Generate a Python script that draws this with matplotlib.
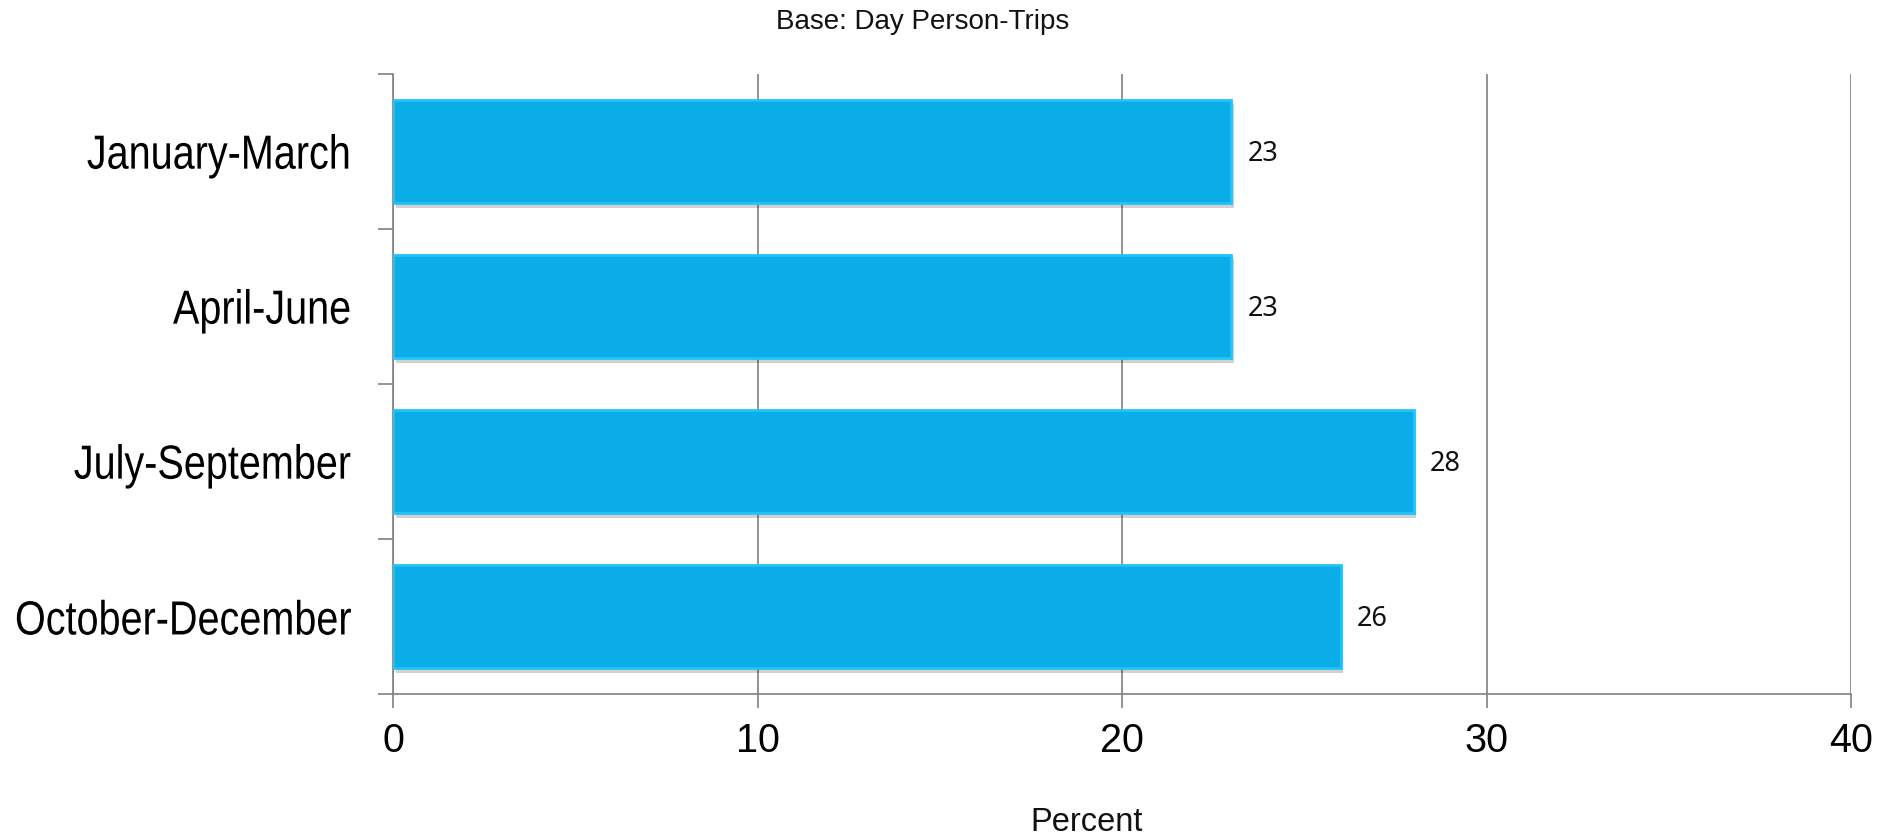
import matplotlib
matplotlib.use("Agg")
import matplotlib.pyplot as plt
import matplotlib.patheffects as pe
from matplotlib.transforms import Affine2D

categories = ["January-March", "April-June", "July-September", "October-December"]
values = [23, 23, 28, 26]
xticks = [0, 10, 20, 30, 40]


class Tall(pe.AbstractPathEffect):
    """Stretch a text vertically about its centre (narrow-font look)."""
    def __init__(self, factor=1.2):
        super().__init__()
        self.factor = factor

    def draw_path(self, renderer, gc, tpath, affine, rgbFace=None):
        ext = tpath.get_extents(affine)
        yc = 0.5 * (ext.y0 + ext.y1)
        tr = affine + Affine2D().translate(0, -yc).scale(1, self.factor).translate(0, yc)
        renderer.draw_path(gc, tpath, tr, rgbFace)


fig = plt.figure(figsize=(18.85, 8.38), dpi=100)
W, H = 1885, 838
left, right, top, bottom = 393, 1851, 74, 694
ax = fig.add_axes([left / W, 1 - bottom / H, (right - left) / W, (bottom - top) / H])

n = len(categories)
ypos = [n - 1 - i + 0.5 for i in range(n)]
bars = ax.barh(ypos, values, height=0.67, color="#0AADE8", edgecolor="#22C3F5",
               linewidth=2.0, zorder=3)
for b in bars:
    b.set_path_effects([pe.SimplePatchShadow(offset=(2, -3), shadow_rgbFace="#000000", alpha=0.18),
                        pe.Normal()])

for y, v in zip(ypos, values):
    ax.annotate(str(v), xy=(v, y), xytext=(11.5, -2), textcoords="offset points",
                ha="left", va="center", fontsize=19.5, family="Noto Sans", color="#111111")

ax.set_xlim(0, 40)
ax.set_ylim(0, n)
ax.set_xticks(xticks)
ax.set_xticklabels([str(t) for t in xticks], fontsize=28.5, family="Liberation Sans")
ax.set_yticks(range(n + 1))
ax.set_yticks(ypos, minor=True)
ax.set_yticklabels([""] * (n + 1))
ax.set_yticklabels(categories, minor=True, fontsize=28.5, family="Liberation Sans")
for lab in ax.get_yticklabels(minor=True):
    lab.set_path_effects([Tall(1.21)])
ax.tick_params(axis="y", which="minor", length=0, pad=30)
ax.tick_params(axis="y", which="major", length=11, width=1.2, color="#808080", direction="out")
ax.tick_params(axis="x", length=10, width=1.2, color="#808080", direction="out", pad=10)

ax.grid(axis="x", color="#808080", linewidth=1.2, zorder=0)
ax.set_axisbelow(True)
for s in ["top", "right"]:
    ax.spines[s].set_visible(False)
for s in ["left", "bottom"]:
    ax.spines[s].set_color("#808080")
    ax.spines[s].set_linewidth(1.2)

fig.text(923 / W, 1 - 22 / H, "Base: Day Person-Trips", ha="center", va="center",
         fontsize=20, family="Liberation Sans", color="#111111")
fig.text(1087 / W, 1 - 822 / H, "Percent", ha="center", va="center",
         fontsize=23.5, family="Liberation Sans", color="#111111")

fig.savefig("out.png", dpi=100)
